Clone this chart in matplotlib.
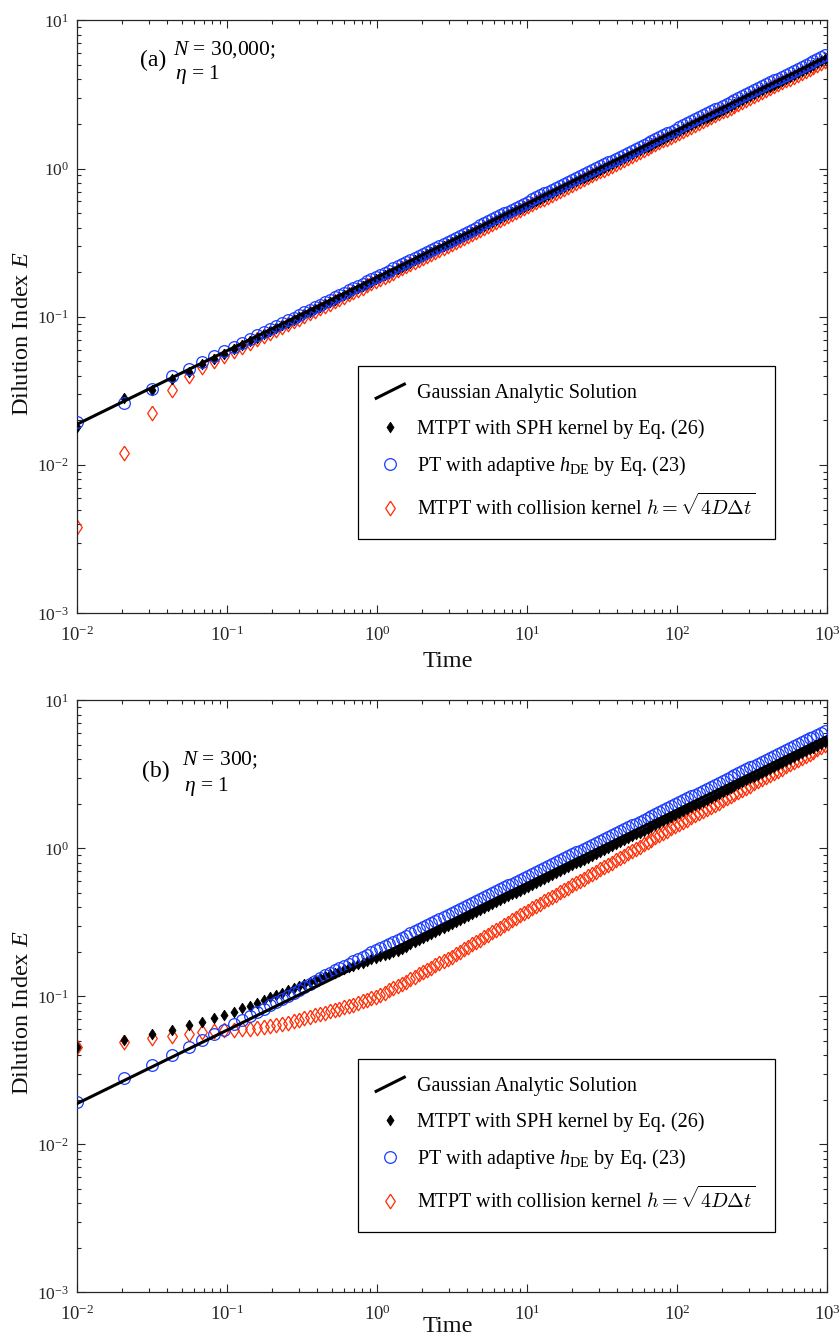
import matplotlib
matplotlib.use("Agg")
import matplotlib.pyplot as plt
from matplotlib.ticker import LogLocator, NullFormatter, FixedLocator, FixedFormatter
from matplotlib.legend_handler import HandlerBase
from matplotlib.lines import Line2D

plt.rcParams['font.family'] = ['Liberation Serif', 'DejaVu Serif']
plt.rcParams['mathtext.fontset'] = 'custom'
plt.rcParams['mathtext.rm'] = 'Liberation Serif'
plt.rcParams['mathtext.it'] = 'Liberation Serif:italic'
plt.rcParams['mathtext.bf'] = 'Liberation Serif:bold'

# output times (same for every series)
time = [
    0.0100, 0.0206, 0.0316, 0.0432, 0.0555, 0.0685, 0.0823, 0.0959, 0.1114, 0.1265, 0.1424,
    0.1585, 0.1755, 0.1936, 0.2128, 0.2331, 0.2548, 0.2778, 0.3023, 0.3283, 0.3559,
    0.3852, 0.4164, 0.4495, 0.4847, 0.5221, 0.5618, 0.604, 0.6489, 0.6965, 0.7471,
    0.8009, 0.8581, 0.9188, 0.9833, 1.0519, 1.1247, 1.2021, 1.2843, 1.3717, 1.4645,
    1.5631, 1.6679, 1.7793, 1.8976, 2.0233, 2.1568, 2.2987, 2.4495, 2.6097, 2.7799,
    2.9607, 3.1528, 3.357, 3.5739, 3.8043, 4.0492, 4.3094, 4.5858, 4.8795, 5.1916,
    5.5231, 5.8754, 6.2497, 6.6474, 7.07, 7.519, 7.996, 8.503, 9.041, 9.614,
    10.22, 10.87, 11.55, 12.28, 13.06, 13.88, 14.76, 15.68, 16.67, 17.72,
    18.84, 20.02, 21.28, 22.62, 24.04, 25.55, 27.15, 28.85, 30.66, 32.59,
    34.63, 36.80, 39.11, 41.56, 44.17, 46.93, 49.87, 53.00, 56.32, 59.84,
    63.59, 67.57, 71.80, 76.30, 81.07, 86.15, 91.54, 97.27, 103.4, 109.8,
    116.7, 124.0, 131.7, 140.0, 148.7, 158.0, 167.9, 178.4, 189.6, 201.5,
    214.1, 227.4, 241.7, 256.8, 272.8, 289.9, 308.0, 327.3, 347.7, 369.5,
    392.6, 417.1, 443.2, 470.9, 500.3, 531.6, 564.8, 600.1, 637.7, 677.5,
    719.9, 764.9, 812.7, 863.5, 917.5, 974.8]

# Gaussian analytic solution (straight line on log-log axes)
gauss_t = [0.01, 1000]
gauss_E = [0.01884, 5.69]

# ---- panel (a): N = 30,000 ----
a_sph = [
    0.0181, 0.0283, 0.0320, 0.0378, 0.0423, 0.0484, 0.0522, 0.0564, 0.0607, 0.0646, 0.0686,
    0.0723, 0.0761, 0.0799, 0.0837, 0.0876, 0.0915, 0.0955, 0.0996, 0.1037, 0.1080,
    0.1123, 0.1168, 0.1213, 0.1259, 0.1307, 0.1354, 0.1404, 0.1455, 0.1506, 0.1560,
    0.1616, 0.1671, 0.1729, 0.1788, 0.1849, 0.1911, 0.1974, 0.2041, 0.2109, 0.2178,
    0.2249, 0.2323, 0.2399, 0.2477, 0.2557, 0.2640, 0.2725, 0.2812, 0.2902, 0.2994,
    0.3089, 0.3187, 0.3288, 0.3391, 0.3497, 0.3608, 0.3722, 0.3839, 0.3958, 0.4081,
    0.4208, 0.4341, 0.4475, 0.4615, 0.4757, 0.4904, 0.5056, 0.5213, 0.5374, 0.5540,
    0.5712, 0.5886, 0.6065, 0.6251, 0.6442, 0.6638, 0.6841, 0.7049, 0.7265, 0.7486,
    0.7715, 0.7950, 0.8193, 0.8444, 0.8701, 0.8966, 0.9240, 0.9522, 0.9812, 1.0112,
    1.0421, 1.0739, 1.1066, 1.1405, 1.1753, 1.2110, 1.2480, 1.2861, 1.3254, 1.3659,
    1.4075, 1.4505, 1.4948, 1.5404, 1.5874, 1.6359, 1.6858, 1.7373, 1.7902, 1.8449,
    1.9012, 1.9592, 2.0190, 2.0806, 2.1441, 2.2095, 2.2770, 2.3465, 2.4181, 2.4919,
    2.5680, 2.6463, 2.7271, 2.8103, 2.8961, 2.9846, 3.0757, 3.1695, 3.2663, 3.3659,
    3.4687, 3.5745, 3.6836, 3.7961, 3.9119, 4.0313, 4.1544, 4.2811, 4.4119, 4.5465,
    4.6853, 4.8283, 4.9756, 5.1275, 5.2840, 5.4453]
a_pt = [
    0.0194, 0.0261, 0.0328, 0.0397, 0.0447, 0.0499, 0.0543, 0.0584, 0.0623, 0.0663, 0.0707,
    0.0749, 0.0788, 0.0827, 0.0867, 0.0907, 0.0948, 0.0989, 0.1032, 0.1075, 0.1119,
    0.1164, 0.1210, 0.1256, 0.1304, 0.1353, 0.1403, 0.1454, 0.1507, 0.1560, 0.1616,
    0.1674, 0.1731, 0.1791, 0.1852, 0.1919, 0.1984, 0.2049, 0.2118, 0.2189, 0.2261,
    0.2335, 0.2412, 0.2490, 0.2571, 0.2654, 0.2740, 0.2840, 0.2930, 0.3024, 0.3120,
    0.3219, 0.3321, 0.3426, 0.3534, 0.3644, 0.3760, 0.3878, 0.4000, 0.4140, 0.4270,
    0.4402, 0.4541, 0.4682, 0.4828, 0.4977, 0.5131, 0.5290, 0.5454, 0.5622, 0.5796,
    0.5975, 0.6206, 0.6395, 0.6591, 0.6792, 0.6999, 0.7212, 0.7432, 0.7660, 0.7893,
    0.8135, 0.8382, 0.8638, 0.8902, 0.9174, 0.9453, 0.9742, 1.0039, 1.0346, 1.0661,
    1.0987, 1.1322, 1.1668, 1.2025, 1.2392, 1.2769, 1.3158, 1.3560, 1.3975, 1.4401,
    1.4840, 1.5294, 1.5760, 1.6241, 1.6737, 1.7248, 1.7774, 1.8317, 1.9095, 1.9679,
    2.0279, 2.0898, 2.1536, 2.2194, 2.2871, 2.3568, 2.4288, 2.5030, 2.5793, 2.6580,
    2.7392, 2.8228, 2.9090, 2.9977, 3.0892, 3.1835, 3.2807, 3.3808, 3.4840, 3.5903,
    3.6999, 3.8128, 3.9292, 4.0491, 4.1727, 4.3001, 4.4313, 4.5665, 4.7060, 4.8496,
    4.9976, 5.1502, 5.3073, 5.4694, 5.6363, 5.8083]
a_coll = [
    0.00384, 0.0120, 0.0223, 0.0321, 0.0399, 0.0461, 0.0503, 0.0543, 0.0588, 0.0630, 0.0668,
    0.0705, 0.0741, 0.0778, 0.0816, 0.0853, 0.0892, 0.0931, 0.0971, 0.1011, 0.1053,
    0.1094, 0.1138, 0.1182, 0.1226, 0.1273, 0.1320, 0.1368, 0.1417, 0.1468, 0.1520,
    0.1574, 0.1628, 0.1684, 0.1742, 0.1801, 0.1862, 0.1924, 0.1988, 0.2055, 0.2122,
    0.2192, 0.2264, 0.2337, 0.2414, 0.2492, 0.2573, 0.2655, 0.2740, 0.2827, 0.2917,
    0.3010, 0.3106, 0.3203, 0.3304, 0.3408, 0.3516, 0.3626, 0.3740, 0.3856, 0.3977,
    0.4100, 0.4229, 0.4361, 0.4496, 0.4635, 0.4779, 0.4927, 0.5080, 0.5236, 0.5398,
    0.5565, 0.5735, 0.5910, 0.6090, 0.6277, 0.6468, 0.6665, 0.6869, 0.7078, 0.7294,
    0.7517, 0.7746, 0.7983, 0.8227, 0.8478, 0.8736, 0.9003, 0.9278, 0.9561, 0.9852,
    1.0154, 1.0463, 1.0783, 1.1112, 1.1451, 1.1800, 1.2160, 1.2531, 1.2914, 1.3309,
    1.3714, 1.4133, 1.4564, 1.5009, 1.5467, 1.5939, 1.6426, 1.6927, 1.7443, 1.7976,
    1.8524, 1.9089, 1.9672, 2.0273, 2.0891, 2.1529, 2.2186, 2.2864, 2.3561, 2.4280,
    2.5021, 2.5785, 2.6572, 2.7383, 2.8218, 2.9079, 2.9968, 3.0883, 3.1825, 3.2796,
    3.3797, 3.4829, 3.5892, 3.6987, 3.8114, 3.9276, 4.0473, 4.1705, 4.2988, 4.4298,
    4.5651, 4.7045, 4.8480, 4.9960, 5.1485, 5.3057]

# ---- panel (b): N = 300 ----
b_sph = [
    0.0454, 0.0510, 0.0560, 0.0596, 0.0640, 0.0674, 0.0718, 0.0752, 0.0788, 0.0830, 0.0860,
    0.0901, 0.0944, 0.0983, 0.1022, 0.1060, 0.1098, 0.1136, 0.1175, 0.1213, 0.1252,
    0.1290, 0.1330, 0.1368, 0.1407, 0.1447, 0.1486, 0.1526, 0.1567, 0.1607, 0.1648,
    0.1690, 0.1731, 0.1773, 0.1816, 0.1858, 0.1901, 0.1944, 0.1999, 0.2033, 0.2100,
    0.2169, 0.2240, 0.2312, 0.2389, 0.2466, 0.2546, 0.2627, 0.2711, 0.2797, 0.2887,
    0.2978, 0.3073, 0.3170, 0.3269, 0.3372, 0.3479, 0.3588, 0.3701, 0.3815, 0.3935,
    0.4057, 0.4185, 0.4315, 0.4449, 0.4586, 0.4728, 0.4875, 0.5026, 0.5181, 0.5341,
    0.5507, 0.5675, 0.5848, 0.6026, 0.6211, 0.6400, 0.6595, 0.6796, 0.7004, 0.7217,
    0.7438, 0.7665, 0.7899, 0.8140, 0.8389, 0.8644, 0.8908, 0.9180, 0.9460, 0.9749,
    1.0047, 1.0353, 1.0669, 1.0995, 1.1331, 1.1676, 1.2032, 1.2400, 1.2778, 1.3168,
    1.3570, 1.3984, 1.4411, 1.4851, 1.5304, 1.5771, 1.6253, 1.6749, 1.7259, 1.7787,
    1.8329, 1.8888, 1.9466, 2.0060, 2.0672, 2.1302, 2.1953, 2.2623, 2.3313, 2.4025,
    2.4758, 2.5513, 2.6293, 2.7095, 2.7922, 2.8774, 2.9652, 3.0558, 3.1490, 3.2451,
    3.3441, 3.4462, 3.5514, 3.6598, 3.7715, 3.8866, 4.0052, 4.1274, 4.2535, 4.3833,
    4.5171, 4.6550, 4.7970, 4.9435, 5.0943, 5.2498]
b_pt = [
    0.0193, 0.0280, 0.0345, 0.0403, 0.0456, 0.0506, 0.0560, 0.0595, 0.0648, 0.0693, 0.0735,
    0.0779, 0.0823, 0.0868, 0.0914, 0.0961, 0.1009, 0.1058, 0.1109, 0.1160, 0.1213,
    0.1267, 0.1336, 0.1387, 0.1439, 0.1494, 0.1549, 0.1606, 0.1664, 0.1723, 0.1784,
    0.1848, 0.1911, 0.1977, 0.2045, 0.2114, 0.2185, 0.2258, 0.2334, 0.2412, 0.2491,
    0.2572, 0.2657, 0.2743, 0.2833, 0.2925, 0.3019, 0.3116, 0.3216, 0.3318, 0.3424,
    0.3532, 0.3645, 0.3760, 0.3878, 0.4000, 0.4127, 0.4256, 0.4390, 0.4526, 0.4667,
    0.4812, 0.4964, 0.5118, 0.5277, 0.5440, 0.5608, 0.5782, 0.5962, 0.6146, 0.6335,
    0.6532, 0.6731, 0.6936, 0.7148, 0.7367, 0.7591, 0.7823, 0.8061, 0.8308, 0.8561,
    0.8823, 0.9092, 0.9369, 0.9656, 0.9950, 1.0254, 1.0567, 1.0889, 1.1221, 1.1564,
    1.1917, 1.2281, 1.2655, 1.3042, 1.3440, 1.3849, 1.4272, 1.4708, 1.5157, 1.5620,
    1.6096, 1.6588, 1.7094, 1.7616, 1.8153, 1.8707, 1.9278, 1.9867, 2.0473, 2.1098,
    2.1741, 2.2405, 2.3089, 2.3794, 2.4520, 2.5268, 2.6040, 2.6835, 2.7653, 2.8497,
    2.9367, 3.0263, 3.1188, 3.2139, 3.3120, 3.4131, 3.5173, 3.6246, 3.7353, 3.8492,
    3.9667, 4.0878, 4.2126, 4.3411, 4.4736, 4.6102, 4.7509, 4.8958, 5.0454, 5.1994,
    5.3580, 5.5216, 5.6901, 5.8638, 6.0427, 6.2272]
b_coll = [
    0.0454, 0.0491, 0.0526, 0.0540, 0.0560, 0.0574, 0.0583, 0.0589, 0.0596, 0.0600, 0.0605,
    0.0610, 0.0619, 0.0627, 0.0638, 0.0650, 0.0663, 0.0677, 0.0692, 0.0708, 0.0725,
    0.0742, 0.0759, 0.0776, 0.0793, 0.0810, 0.0827, 0.0844, 0.0862, 0.0879, 0.0901,
    0.0924, 0.0947, 0.0970, 0.0994, 0.1025, 0.1060, 0.1095, 0.1131, 0.1169, 0.1212,
    0.1258, 0.1306, 0.1356, 0.1407, 0.1459, 0.1510, 0.1562, 0.1616, 0.1671, 0.1729,
    0.1788, 0.1855, 0.1927, 0.2001, 0.2078, 0.2157, 0.2239, 0.2325, 0.2414, 0.2506,
    0.2601, 0.2700, 0.2803, 0.2909, 0.3019, 0.3138, 0.3260, 0.3388, 0.3520, 0.3658,
    0.3799, 0.3937, 0.4079, 0.4227, 0.4380, 0.4538, 0.4703, 0.4873, 0.5049, 0.5232,
    0.5422, 0.5618, 0.5821, 0.6032, 0.6250, 0.6477, 0.6711, 0.6954, 0.7206, 0.7467,
    0.7737, 0.8017, 0.8307, 0.8608, 0.8920, 0.9243, 0.9577, 0.9924, 1.0283, 1.0655,
    1.1041, 1.1441, 1.1855, 1.2284, 1.2729, 1.3190, 1.3667, 1.4162, 1.4638, 1.5130,
    1.5638, 1.6164, 1.6707, 1.7268, 1.7848, 1.8448, 1.9068, 1.9709, 2.0371, 2.1055,
    2.1763, 2.2494, 2.3250, 2.4031, 2.4838, 2.5673, 2.6536, 2.7427, 2.8349, 2.9302,
    3.0286, 3.1304, 3.2356, 3.3443, 3.4567, 3.5728, 3.6929, 3.8170, 3.9452, 4.0778,
    4.2148, 4.3564, 4.5028, 4.6541, 4.8105, 4.9721]

for name, s in [('a_sph', a_sph), ('a_pt', a_pt), ('a_coll', a_coll),
                ('b_sph', b_sph), ('b_pt', b_pt), ('b_coll', b_coll)]:
    if len(s) != len(time):
        raise ValueError('%s has %d values, time has %d' % (name, len(s), len(time)))

labels = ['Gaussian Analytic Solution',
          'MTPT with SPH kernel by Eq. (26)',
          r'PT with adaptive $h_{\mathrm{DE}}$ by Eq. (23)',
          r'MTPT with collision kernel $h=\sqrt{4D\Delta t}$']

axcol = '#262626'
blue = '#1a3cff'
red = '#ff2a00'
diamond = [(0, 1), (0.66, 0), (0, -1), (-0.66, 0), (0, 1)]


class SlantLine(HandlerBase):
    # legend line drawn from lower left to upper right
    def create_artists(self, legend, orig_handle, xdescent, ydescent,
                       width, height, fontsize, trans):
        ln = Line2D([-xdescent, -xdescent + width],
                    [-ydescent, -ydescent + height],
                    color='k', lw=2.2)
        ln.set_transform(trans)
        return [ln]


def panel(ax, sph, pt, coll, tag, ntext, leg_top):
    ax.plot(time, coll, linestyle='none', marker=diamond, ms=10.5, mfc='none',
            mec=red, mew=0.9, zorder=2, label=labels[3])
    ax.plot(time, sph, linestyle='none', marker=diamond, ms=7.8, mfc='k',
            mec='k', mew=0.5, zorder=3, label=labels[1])
    ax.plot(time, pt, linestyle='none', marker='o', ms=8.4, mfc='none',
            mec=blue, mew=0.9, zorder=4, label=labels[2])
    ax.plot(gauss_t, gauss_E, color='k', lw=2.2, zorder=5, label=labels[0])

    ax.set_xscale('log')
    ax.set_yscale('log')
    ax.set_xlim(1e-2, 1e3)
    ax.set_ylim(1e-3, 1e1)

    xt = [1e-2, 1e-1, 1e0, 1e1, 1e2, 1e3]
    yt = [1e-3, 1e-2, 1e-1, 1e0, 1e1]
    ax.xaxis.set_major_locator(FixedLocator(xt))
    ax.xaxis.set_major_formatter(FixedFormatter([r'$10^{-2}$', r'$10^{-1}$', r'$10^{0}$',
                                                 r'$10^{1}$', r'$10^{2}$', r'$10^{3}$']))
    ax.yaxis.set_major_locator(FixedLocator(yt))
    ax.yaxis.set_major_formatter(FixedFormatter([r'$10^{-3}$', r'$10^{-2}$', r'$10^{-1}$',
                                                 r'$10^{0}$', r'$10^{1}$']))
    for axis in (ax.xaxis, ax.yaxis):
        axis.set_minor_locator(LogLocator(base=10, subs=range(2, 10), numticks=20))
        axis.set_minor_formatter(NullFormatter())

    ax.tick_params(which='both', direction='in', top=True, right=True,
                   color=axcol, width=0.8, labelcolor=axcol)
    ax.tick_params(axis='x', labelsize=13.5, pad=9)
    ax.tick_params(axis='y', labelsize=12.5, pad=6)
    ax.tick_params(which='major', length=5.5)
    ax.tick_params(which='minor', length=2.9)
    for sp in ax.spines.values():
        sp.set_color(axcol)
        sp.set_linewidth(0.9)

    ax.set_xlabel('Time', fontsize=17.5, color='#111111')
    ax.set_ylabel(r'Dilution Index $E$', fontsize=17.5, color='#111111')
    ax.yaxis.set_label_coords(-0.058, 0.472)

    ax.text(tag[0], tag[1], tag[2], transform=ax.transAxes, fontsize=17,
            va='center', ha='left')
    ax.text(ntext[0], ntext[1], ntext[2], transform=ax.transAxes, fontsize=15.5,
            va='center', ha='left')
    ax.text(ntext[0] + 0.003, ntext[3], r'$\eta$ = 1', transform=ax.transAxes,
            fontsize=15.5, va='center', ha='left')

    h, l = ax.get_legend_handles_labels()
    order = [3, 1, 2, 0]
    leg = ax.legend([h[i] for i in order], [l[i] for i in order],
                    loc='upper left', bbox_to_anchor=(0.3747, leg_top - 0.287, 0.556, 0.287),
                    mode='expand', borderaxespad=0, fontsize=14.5, frameon=True,
                    fancybox=False, edgecolor='k', framealpha=1, borderpad=0.9,
                    labelspacing=0.78, handlelength=1.4, handletextpad=0.65,
                    handler_map={h[3]: SlantLine()})
    leg.get_frame().set_linewidth(0.9)
    leg.set_zorder(10)
    leg.get_texts()[3].set_math_fontfamily('cm')
    return ax


fig = plt.figure(figsize=(8.4, 13.41), dpi=100)
axA = fig.add_axes([77 / 840, 1 - 613.3 / 1341, 750 / 840, 593 / 1341])
axB = fig.add_axes([77 / 840, 1 - 1292.3 / 1341, 750 / 840, 592 / 1341])

panel(axA, a_sph, a_pt, a_coll, (0.084, 0.933, '(a)'),
      (0.128, 0.950, r'$N$ = 30,000;', 0.908), 0.417)
panel(axB, b_sph, b_pt, b_coll, (0.087, 0.879, '(b)'),
      (0.140, 0.899, r'$N$ = 300;', 0.854), 0.394)

axA.xaxis.set_label_coords(0.4947, -0.064)
axB.xaxis.set_label_coords(0.4947, -0.040)

fig.savefig('out.png', dpi=100)
